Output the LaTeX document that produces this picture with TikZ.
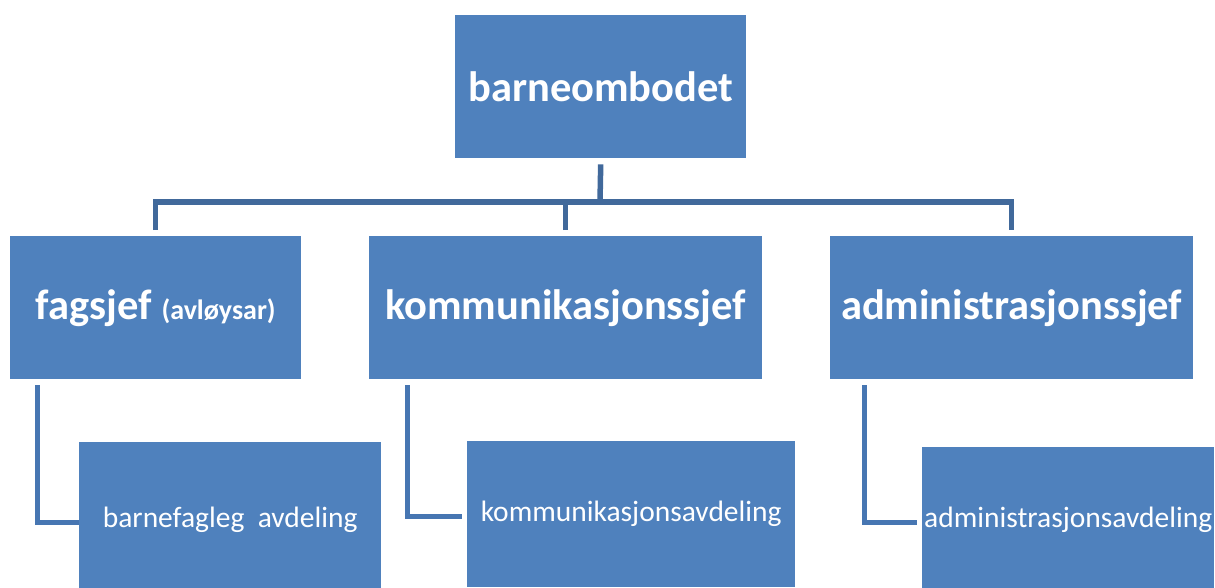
\documentclass[tikz,border=0pt]{standalone}
\usepackage{fontspec}
\setmainfont{Carlito}
\definecolor{boxblue}{HTML}{4F81BD}
\definecolor{lnkblue}{HTML}{41699B}
\definecolor{sublnkblue}{HTML}{4776B2}
\begin{document}
\begin{tikzpicture}[x=1pt,y=-1pt]
		\tikzset{box/.style={fill=boxblue,text=white,inner sep=0pt,anchor=north west},
			head/.style={box,minimum height=143pt,font=\fontsize{42.5}{46}\selectfont\bfseries},
			dept/.style={box,minimum height=143pt,font=\fontsize{29.5}{33}\selectfont},
			lnk/.style={draw=lnkblue,line width=5.5pt},
			sublnk/.style={draw=sublnkblue,line width=5pt}}
		\useasboundingbox (0,0) rectangle (1215,587);
		\node[head,minimum width=291pt] (bo) at (455,15) {barneombodet};
		\node[head,minimum width=291pt] (fs) at (10,236) {fagsjef {\fontsize{28}{30}\selectfont(avløysar)}};
		\node[head,minimum width=393pt] (ks) at (369,236) {kommunikasjonssjef};
		\node[head,minimum width=363pt] (as) at (830,236) {administrasjonssjef};
		\node[dept,minimum width=302pt,minimum height=156pt] (fa) at (79,442) {barnefagleg\ \ avdeling};
		\node[dept,minimum width=328pt,minimum height=146pt] (ka) at (467,441) {kommunikasjonsavdeling};
		\node[dept,minimum width=292pt,minimum height=146pt] (aa) at (922,447) {administrasjonsavdeling};
		\coordinate (bus) at (600,202);

		\draw[lnk] ([yshift=-6pt]bo.south) -- (bus);
		\draw[lnk] ([yshift=6pt]fs.north) |- (bus) -| ([yshift=6pt]as.north);
		\draw[lnk] ([yshift=6pt]ks.north) -- (ks.north |- bus);
		\draw[sublnk] ([xshift=27pt,yshift=-6pt]fs.south west) |- ([yshift=-2pt]fa.west);
		\draw[sublnk,shorten >=5pt] ([xshift=38pt,yshift=-6pt]ks.south west) |- ([yshift=-2pt]ka.west);
		\draw[sublnk,shorten >=5pt] ([xshift=34pt,yshift=-6pt]as.south west) |- ([yshift=-2pt]aa.west);
\end{tikzpicture}
\end{document}
